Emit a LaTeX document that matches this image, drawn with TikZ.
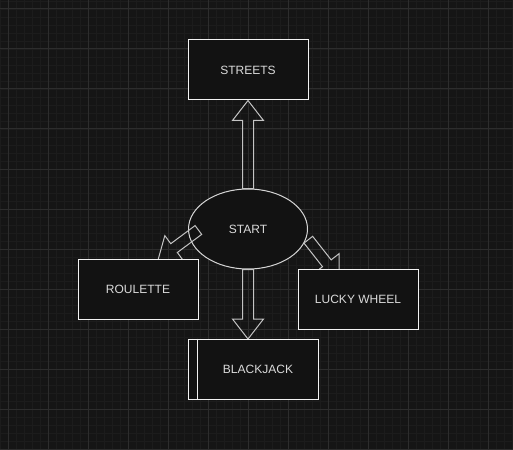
\documentclass[tikz,border=0pt]{standalone}
\usepackage{fontspec}
\setmainfont{Liberation Sans}
\usetikzlibrary{calc,shapes.geometric}
\definecolor{bgc}{HTML}{151515}
\definecolor{minorc}{HTML}{1C1C1C}
\definecolor{majorc}{HTML}{2D2D2D}
\definecolor{boxfill}{HTML}{121212}
\definecolor{boxline}{HTML}{F2F2F2}
\definecolor{ellline}{HTML}{D6D6D6}
\definecolor{arrowline}{HTML}{C4C4C4}
\definecolor{txt}{HTML}{DADADA}
\tikzset{
  box/.style={draw=boxline, fill=boxfill, line width=1pt, minimum width=120pt, minimum height=60pt,
    inner sep=0pt, text=txt, font=\fontsize{12}{14}\selectfont},
  startshape/.style={ellipse, draw=ellline, fill=boxfill, line width=1pt, minimum width=119pt,
    minimum height=80pt, inner sep=0pt, text=txt, font=\fontsize{12}{14}\selectfont},
  flow/.style={draw=arrowline, line width=1pt, line join=miter},
  minorline/.style={draw=minorc, line width=0.6pt},
  majorline/.style={draw=majorc, line width=1pt}
}
\newcommand\blockarrow[2]{%
  \coordinate (ba-h) at ($(#2)!20pt!(#1)$);
  \draw[flow] ($(#1)!5.5pt!90:(#2)$) -- ($(ba-h)!5.5pt!-90:(#1)$) -- ($(ba-h)!15.5pt!-90:(#1)$) -- (#2)
    -- ($(ba-h)!15.5pt!90:(#1)$) -- ($(ba-h)!5.5pt!90:(#1)$) -- ($(#1)!5.5pt!-90:(#2)$) -- cycle;}
\begin{document}
\begin{tikzpicture}[x=1pt,y=-1pt]
\fill[bgc] (0,0) rectangle (513,449);
\useasboundingbox (0,0) rectangle (513,449);
% grid
\foreach \x in {0,8,...,512} \draw[minorline] (\x,0) -- (\x,449);
\foreach \y in {1,9,...,449} \draw[minorline] (0,\y) -- (513,\y);
\foreach \x in {8,48,...,512} \draw[majorline] (\x,0) -- (\x,449);
\foreach \y in {9,49,...,449} \draw[majorline] (0,\y) -- (513,\y);
% start ellipse
\node[startshape] (start) at (248,229) {START};
\node[box] (streets) at (248,70) {STREETS};
% arrows
\blockarrow{start.north}{streets.south}
\coordinate (bjtop) at (248,339);
\blockarrow{start.south}{bjtop}
\coordinate (rs) at (198.4,230);
\coordinate (re) at (158,260);
\blockarrow{rs}{re}
\coordinate (ls) at (308.3,239.7);
\coordinate (le) at (339.2,279);
\blockarrow{ls}{le}
% boxes
\node[box] (roulette) at (138,289) {ROULETTE};
\node[box] (lucky) at (358,299) {LUCKY WHEEL};
\node[box, minimum width=130pt] (blackjack) at (253,369) {\hspace*{10pt}BLACKJACK};
\draw[draw=boxline, line width=1pt] ([xshift=10pt]blackjack.north west) -- ([xshift=10pt]blackjack.south west);
\end{tikzpicture}
\end{document}
